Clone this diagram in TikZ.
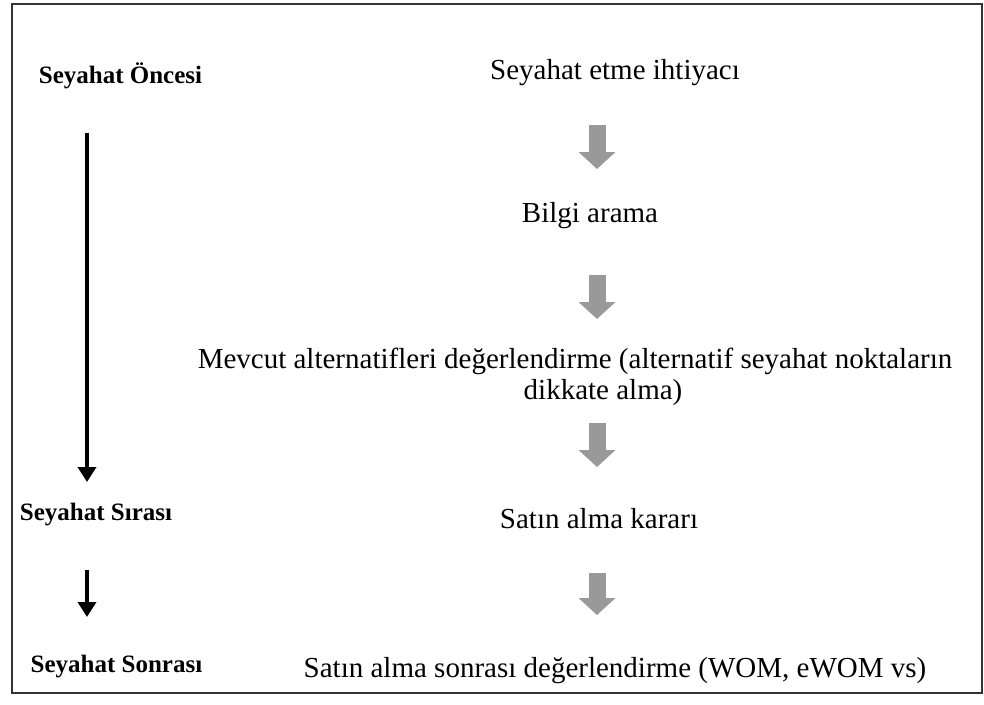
\documentclass[tikz,border=0pt]{standalone}
\usepackage{fontspec}
\setmainfont{Liberation Serif}
\usetikzlibrary{arrows.meta}
\tikzset{
  step text/.style={anchor=base, inner sep=0pt, font=\fontsize{29}{31}\selectfont},
  phase text/.style={anchor=base, inner sep=0pt, font=\fontsize{25}{27}\selectfont\bfseries},
  gray arrow/.style={draw=black!40, line width=17pt, -{Triangle[width=36pt,length=17pt]}},
  black arrow/.style={draw=black, line width=3.5pt, -{Triangle[width=18pt,length=15pt]}},
  frame/.style={draw=black!80, line width=2pt}
}
\begin{document}
\begin{tikzpicture}[x=1pt,y=-1pt]
\useasboundingbox (0,0) rectangle (984,704);
\draw[frame] (12,4) rectangle (982,693);
% steps
\node[step text] (s1) at (615,79) {Seyahat etme ihtiyacı};
\node[step text] (s2) at (590,222) {Bilgi arama};
\node[step text] (s3) at (575,368) {Mevcut alternatifleri değerlendirme (alternatif seyahat noktaların};
\node[step text] (s3b) at (603,399) {dikkate alma)};
\node[step text] (s4) at (599,528) {Satın alma kararı};
\node[step text] (s5) at (615,677) {Satın alma sonrası değerlendirme (WOM, eWOM vs)};
% phases
\node[phase text] (p1) at (120.5,83) {Seyahat Öncesi};
\node[phase text] (p2) at (96,520) {Seyahat Sırası};
\node[phase text] (p3) at (116.5,672) {Seyahat Sonrası};
% gray arrows
\coordinate (g1a) at (597,125); \coordinate (g1b) at (597,169);
\coordinate (g2a) at (597,275); \coordinate (g2b) at (597,319);
\coordinate (g3a) at (597,423); \coordinate (g3b) at (597,467);
\coordinate (g4a) at (597,573); \coordinate (g4b) at (597,615);
\draw[gray arrow] (g1a) -- (g1b);
\draw[gray arrow] (g2a) -- (g2b);
\draw[gray arrow] (g3a) -- (g3b);
\draw[gray arrow] (g4a) -- (g4b);
% black arrows
\coordinate (b1a) at (87,133); \coordinate (b1b) at (87,482);
\coordinate (b2a) at (87,570); \coordinate (b2b) at (87,617);
\draw[black arrow] (b1a) -- (b1b);
\draw[black arrow] (b2a) -- (b2b);
\end{tikzpicture}
\end{document}
